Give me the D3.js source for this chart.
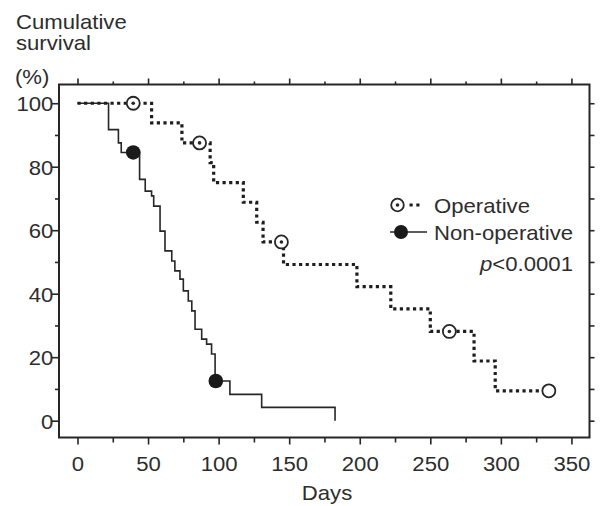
<!DOCTYPE html>
<html>
<head>
<meta charset="utf-8">
<script src="https://cdn.jsdelivr.net/npm/d3@7"></script>
<style>
  body { margin: 0; background: #fff; }
  text { font-family: "Liberation Sans", Arial, sans-serif; fill: #2d2d2d; }
</style>
</head>
<body>
<script>
// survival curves (days, % surviving after the step)
const opDays = [0, 52.5, 74, 94, 96.5, 117.5, 127, 131.5, 146, 198, 222, 250, 281, 296, 334];
const opSurv = [100, 93.8, 87.5, 81.3, 75, 68.8, 62.5, 56.3, 49.2, 42.2, 35.2, 28.1, 18.8, 9.4, 9.4];
const opMarkDays = [39.5, 86.5, 144.5, 263.5];
const opMarkSurv = [100, 87.5, 56.3, 28.1];
const opEnd = [334, 9.4];

const nonDays = [0, 22, 29, 31, 44, 48, 52.5, 54, 58.5, 62, 66.8, 69, 72.6, 75, 78.5, 81, 83.3, 88, 91.5, 95, 97.5, 108, 130.5, 182.5];
const nonSurv = [100, 91.7, 87.5, 84.5, 76, 72.3, 70.8, 67.6, 59.7, 53.5, 50.3, 47.2, 44.6, 40.9, 37.7, 34.6, 28.8, 25.7, 24.1, 21, 12.5, 8.3, 4.2, 0];
const nonMarkDays = [39.5, 98];
const nonMarkSurv = [84.5, 12.5];

const seriesNames = ["Operative", "Non-operative"];
const xTicks = [0, 50, 100, 150, 200, 250, 300, 350];
const xMinor = [25, 75, 125, 175, 225, 275, 325];
const yTicks = [0, 20, 40, 60, 80, 100];
const yMinor = [10, 30, 50, 70, 90];

const W = 601, H = 506;
const pLeft = 59, pRight = 589.5, pTop = 84.5, pBottom = 437.5;
const FS = 20.5, SX = 1.08;   // text is a bit wide in the original
const ink = "#262626";

const svg = d3.select("body").append("svg")
  .attr("width", W).attr("height", H);

const x = d3.scaleLinear().domain([-13.1, 362.8]).range([pLeft, pRight]);
const y = d3.scaleLinear().domain([-5.3, 105.9]).range([pBottom, pTop]);

function label(tx, ty, txt, anchor) {
  return svg.append("text")
    .attr("transform", "translate(" + tx + "," + ty + ") scale(" + SX + ",1)")
    .attr("text-anchor", anchor || "start")
    .style("font-size", FS + "px")
    .text(txt);
}

function styleTicks(g) {
  g.select(".domain").remove();
  g.selectAll("line").attr("stroke", ink).attr("stroke-width", 1.6);
}

// bottom axis
const bx = svg.append("g").attr("transform", "translate(0," + pBottom + ")");
bx.append("g").call(d3.axisBottom(x).tickValues(xTicks).tickSize(7).tickFormat(d3.format("d")))
  .call(styleTicks)
  .call(g => g.selectAll("text")
    .attr("y", 34).attr("dy", null)
    .attr("transform", "scale(" + SX + ",1)")
    .style("font-size", FS + "px").attr("fill", "#2d2d2d")
    .style("font-family", "Liberation Sans, Arial, sans-serif"));
bx.append("g").call(d3.axisBottom(x).tickValues(xMinor).tickSize(5).tickFormat(""))
  .call(styleTicks);

// top axis (ticks only)
const tx = svg.append("g").attr("transform", "translate(0," + pTop + ")");
tx.append("g").call(d3.axisTop(x).tickValues(xTicks).tickSize(6).tickFormat("")).call(styleTicks);
tx.append("g").call(d3.axisTop(x).tickValues(xMinor).tickSize(3).tickFormat("")).call(styleTicks);

// left axis
const ly = svg.append("g").attr("transform", "translate(" + pLeft + ",0)");
ly.append("g").call(d3.axisLeft(y).tickValues(yTicks).tickSize(7).tickFormat(d3.format("d")))
  .call(styleTicks)
  .call(g => g.selectAll("text")
    .attr("x", -5.6 / SX).attr("dy", "0.36em")
    .attr("transform", "scale(" + SX + ",1)")
    .style("font-size", FS + "px").attr("fill", "#2d2d2d")
    .style("font-family", "Liberation Sans, Arial, sans-serif"));
ly.append("g").call(d3.axisLeft(y).tickValues(yMinor).tickSize(4).tickFormat("")).call(styleTicks);

// right axis (ticks only)
const ry = svg.append("g").attr("transform", "translate(" + pRight + ",0)");
ry.append("g").call(d3.axisRight(y).tickValues(yTicks.concat(yMinor)).tickSize(5).tickFormat("")).call(styleTicks);

// frame
svg.append("rect")
  .attr("x", pLeft).attr("y", pTop)
  .attr("width", pRight - pLeft).attr("height", pBottom - pTop)
  .attr("fill", "none").attr("stroke", ink).attr("stroke-width", 2);

// curves
const line = d3.line()
  .x(d => x(d[0])).y(d => y(d[1]))
  .curve(d3.curveStepAfter);

svg.append("path")
  .datum(d3.zip(nonDays, nonSurv))
  .attr("d", line)
  .attr("fill", "none").attr("stroke", ink).attr("stroke-width", 1.6);

svg.append("path")
  .datum(d3.zip(opDays, opSurv))
  .attr("d", line)
  .attr("fill", "none").attr("stroke", "#1e1e1e")
  .attr("stroke-width", 3.2).attr("stroke-dasharray", "3.2,3.4");

// markers
const opMarks = d3.zip(opMarkDays, opMarkSurv);
svg.selectAll(".opc").data(opMarks).enter().append("circle")
  .attr("cx", d => x(d[0])).attr("cy", d => y(d[1])).attr("r", 6.5)
  .attr("fill", "#fff").attr("stroke", ink).attr("stroke-width", 1.8);
svg.selectAll(".opd").data(opMarks).enter().append("circle")
  .attr("cx", d => x(d[0])).attr("cy", d => y(d[1])).attr("r", 1.8)
  .attr("fill", ink);
svg.append("circle")
  .attr("cx", x(opEnd[0])).attr("cy", y(opEnd[1])).attr("r", 6.5)
  .attr("fill", "#fff").attr("stroke", ink).attr("stroke-width", 1.8);

svg.selectAll(".nonc").data(d3.zip(nonMarkDays, nonMarkSurv)).enter().append("circle")
  .attr("cx", d => x(d[0])).attr("cy", d => y(d[1])).attr("r", 7.3)
  .attr("fill", "#1a1a1a");

// legend
svg.append("circle").attr("cx", 397.5).attr("cy", 205).attr("r", 6.3)
  .attr("fill", "#fff").attr("stroke", ink).attr("stroke-width", 1.8);
svg.append("circle").attr("cx", 397.5).attr("cy", 205).attr("r", 1.8).attr("fill", ink);
svg.append("line").attr("x1", 409.5).attr("x2", 423).attr("y1", 205).attr("y2", 205)
  .attr("stroke", "#1e1e1e").attr("stroke-width", 3.2).attr("stroke-dasharray", "3.2,3.6");
label(434, 212.5, seriesNames[0]);

svg.append("line").attr("x1", 390).attr("x2", 427).attr("y1", 232).attr("y2", 232)
  .attr("stroke", ink).attr("stroke-width", 1.6);
svg.append("circle").attr("cx", 401).attr("cy", 232).attr("r", 7).attr("fill", "#1a1a1a");
label(434, 240, seriesNames[1]);

const pt = label(573, 270.5, "", "end");
pt.append("tspan").style("font-style", "italic").text("p");
pt.append("tspan").text("<0.0001");

// titles
label(16, 29, "Cumulative");
label(16, 50, "survival");
label(15, 84, "(%)");
label(327, 499.5, "Days", "middle");
</script>
</body>
</html>
